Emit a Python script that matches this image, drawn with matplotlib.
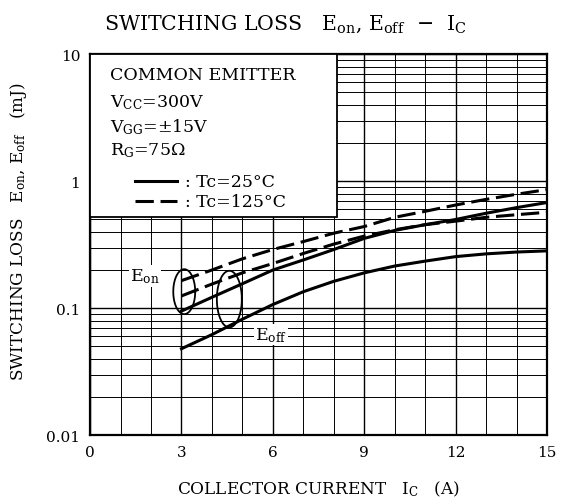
import numpy as np
import matplotlib
matplotlib.use("Agg")
import matplotlib.pyplot as plt
from matplotlib.patches import Rectangle
from matplotlib.ticker import LogLocator, NullFormatter, FixedLocator

# values (mJ vs collector current A)
ic = [3, 4, 5, 6, 7, 8, 9, 10, 11, 12, 13, 14, 15]
eon_25 = [0.095, 0.122, 0.156, 0.20, 0.24, 0.29, 0.355, 0.41, 0.455, 0.50, 0.56, 0.62, 0.68]
eon_125 = [0.165, 0.20, 0.245, 0.29, 0.335, 0.39, 0.44, 0.52, 0.58, 0.65, 0.72, 0.79, 0.86]
eoff_25 = [0.048, 0.062, 0.082, 0.107, 0.135, 0.163, 0.19, 0.215, 0.235, 0.255, 0.268, 0.277, 0.283]
eoff_125 = [0.125, 0.155, 0.19, 0.225, 0.27, 0.32, 0.37, 0.415, 0.455, 0.485, 0.52, 0.545, 0.57]

xticks = [0, 3, 6, 9, 12, 15]
yticks = [0.01, 0.1, 1, 10]
ytick_labels = ["0.01", "0.1", "1", "10"]

box_lines = ["COMMON EMITTER",
             r"V$_{\mathrm{CC}}$=300V",
             r"V$_{\mathrm{GG}}$=$\pm$15V",
             r"R$_{\mathrm{G}}$=75$\Omega$"]

plt.rcParams["font.family"] = ["DejaVu Serif"]
plt.rcParams["mathtext.fontset"] = "dejavuserif"

fig = plt.figure(figsize=(5.7, 5.02), dpi=100)
ax = fig.add_axes([0.158, 0.131, 0.802, 0.759])

ax.set_yscale("log")
ax.set_xlim(0, 15)
ax.set_ylim(0.01, 10)
ax.set_xticks(xticks)
ax.set_xticklabels([str(t) for t in xticks])
ax.xaxis.set_minor_locator(FixedLocator(range(0, 16)))
ax.set_yticks(yticks)
ax.set_yticklabels(ytick_labels)
ax.yaxis.set_minor_locator(LogLocator(base=10, subs=np.arange(2, 10)))
ax.yaxis.set_minor_formatter(NullFormatter())
ax.tick_params(which="both", length=0, labelsize=11, pad=7)
ax.grid(True, which="major", color="black", lw=1.0)
ax.grid(True, which="minor", color="black", lw=0.7)
for s in ax.spines.values():
    s.set_linewidth(1.6)

ax.plot(ic, eon_25, color="black", lw=2.2, zorder=3)
ax.plot(ic, eoff_25, color="black", lw=2.2, zorder=3)
ax.plot(ic, eon_125, color="black", lw=2.2, dashes=(6, 2.2), zorder=3)
ax.plot(ic, eoff_125, color="black", lw=2.2, dashes=(6, 2.2), zorder=3)

# ellipses marking the curve groups
t = np.linspace(0, 2 * np.pi, 200)
ax.plot(3.09 + 0.36 * np.cos(t), 0.135 * 10 ** (0.177 * np.sin(t)), color="black", lw=1.3, zorder=4)
ax.plot(4.57 + 0.41 * np.cos(t), 0.118 * 10 ** (0.223 * np.sin(t)), color="black", lw=1.3, zorder=4)
ax.text(1.8, 0.179, r"E$_{\mathrm{on}}$", fontsize=12.5, ha="center", va="center", zorder=5,
        bbox=dict(facecolor="white", edgecolor="none", pad=1))
ax.text(5.94, 0.062, r"E$_{\mathrm{off}}$", fontsize=12.5, ha="center", va="center", zorder=5,
        bbox=dict(facecolor="white", edgecolor="none", pad=1))

# condition box
ax.add_patch(Rectangle((0, 0.572), 0.54, 0.428, transform=ax.transAxes, facecolor="white",
                       edgecolor="black", lw=1.3, zorder=5))
for txt, yb in zip(box_lines, [0.934, 0.864, 0.799, 0.738]):
    ax.text(0.044, yb, txt, transform=ax.transAxes, fontsize=12.5, va="baseline", zorder=6)
ax.plot([0.098, 0.19], [0.667, 0.667], transform=ax.transAxes, color="black", lw=2.2, zorder=6)
ax.plot([0.098, 0.19], [0.614, 0.614], transform=ax.transAxes, color="black", lw=2.2,
        dashes=(6, 2.2), zorder=6)
ax.text(0.208, 0.654, ": Tc=25°C", transform=ax.transAxes, fontsize=12.5, va="baseline", zorder=6)
ax.text(0.208, 0.602, ": Tc=125°C", transform=ax.transAxes, fontsize=12.5, va="baseline", zorder=6)

fig.text(0.5, 0.940, r"SWITCHING LOSS   E$_{\mathrm{on}}$, E$_{\mathrm{off}}$  $-$  I$_{\mathrm{C}}$",
         fontsize=14.8, ha="center", va="baseline")
fig.text(0.559, 0.016, r"COLLECTOR CURRENT   I$_{\mathrm{C}}$   (A)", fontsize=12.2,
         ha="center", va="baseline")
fig.text(0.032, 0.538, r"SWITCHING LOSS   E$_{\mathrm{on}}$, E$_{\mathrm{off}}$   (mJ)", fontsize=12.2,
         ha="center", va="center", rotation=90)

fig.savefig("out.png", dpi=100)
